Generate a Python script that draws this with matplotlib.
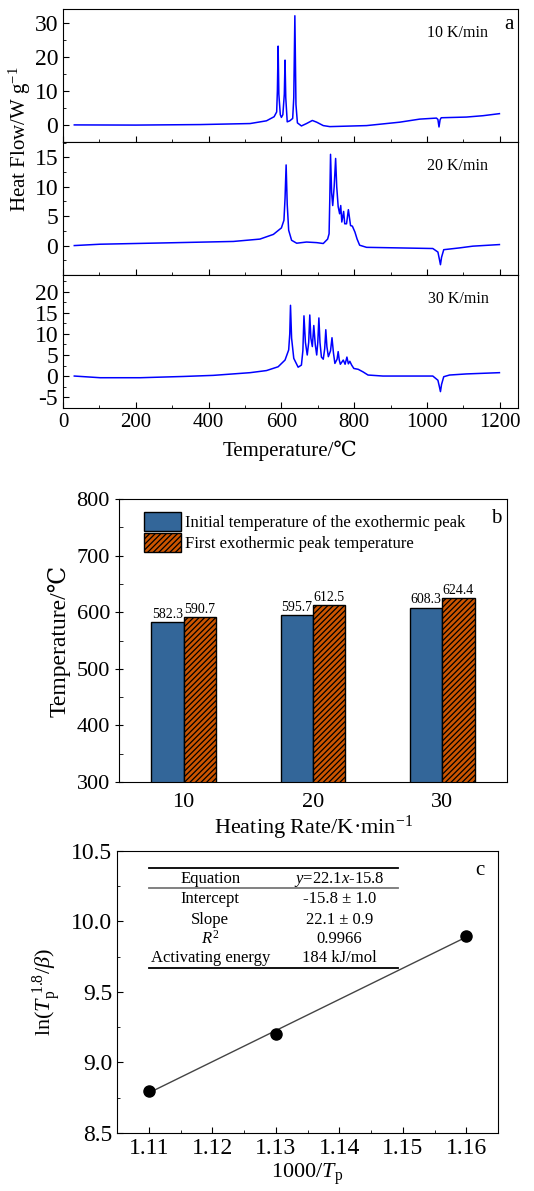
import numpy as np
import matplotlib
matplotlib.use("Agg")
import matplotlib.pyplot as plt
from matplotlib.ticker import MultipleLocator, FormatStrFormatter

plt.rcParams['font.family'] = ['Liberation Serif', 'DejaVu Serif', 'Noto Sans CJK SC']
plt.rcParams['mathtext.fontset'] = 'custom'
plt.rcParams['mathtext.rm'] = 'Liberation Serif'
plt.rcParams['mathtext.it'] = 'Liberation Serif:italic'
plt.rcParams['axes.unicode_minus'] = False
plt.rcParams['hatch.linewidth'] = 0.9

# ---- panel a: DSC curves (temperature, heat flow)
t10 = [31, 200, 377, 514, 559, 580, 587, 589, 591, 593, 597, 600, 604, 608, 610, 612,
       616, 623, 631, 634, 637, 640, 644, 655, 669, 685, 697, 715, 733, 834, 925, 980,
       1026, 1030, 1033, 1036, 1039, 1108, 1154, 1199]
h10 = [0.0, -0.05, 0.1, 0.4, 1.2, 2.4, 3.8, 10.0, 23.1, 9.0, 3.0, 2.2, 3.0, 9.0, 19.0, 8.0,
       0.9, 1.2, 1.9, 8.0, 32.0, 6.0, 0.6, -0.3, 0.4, 1.3, 0.8, -0.2, -0.5, -0.2, 0.8, 1.7,
       2.0, 1.6, -0.6, 1.5, 2.1, 2.3, 2.7, 3.3]

t20 = [31, 102, 285, 468, 541, 578, 600, 607, 610, 613, 616, 620, 628, 642, 669, 697,
       715, 727, 731, 733, 735, 738, 741, 745, 749, 752, 756, 760, 763, 766, 771, 774,
       779, 784, 790, 795, 802, 808, 815, 834, 925, 1016, 1030, 1034, 1037, 1040, 1046,
       1089, 1126, 1199]
h20 = [0.0, 0.23, 0.46, 0.7, 1.1, 1.9, 3.0, 4.3, 8.0, 13.7, 7.0, 2.6, 0.9, 0.4, 0.6, 0.5,
       0.35, 1.1, 2.0, 8.0, 15.5, 9.0, 6.8, 10.0, 14.8, 10.0, 6.6, 5.4, 6.8, 4.0, 5.8, 3.7,
       3.7, 6.1, 3.4, 3.3, 2.3, 1.1, 0.06, -0.3, -0.4, -0.5, -1.1, -2.3, -3.25, -2.0, -0.7,
       -0.4, -0.1, 0.17]

t30 = [31, 102, 212, 331, 413, 514, 559, 591, 610, 620, 623, 625, 628, 634, 646, 655,
       659, 662, 666, 671, 675, 678, 681, 685, 689, 693, 697, 700, 703, 706, 710, 715,
       719, 722, 725, 729, 735, 739, 743, 747, 753, 756, 759, 762, 770, 775, 780, 784,
       788, 793, 799, 811, 824, 838, 879, 1016, 1030, 1034, 1037, 1040, 1046, 1062, 1108,
       1199]
h30 = [0.0, -0.4, -0.4, -0.1, 0.16, 0.8, 1.3, 2.2, 3.8, 6.2, 10.0, 16.8, 9.0, 4.2, 2.1, 2.6,
       6.0, 14.3, 8.0, 5.0, 8.0, 14.5, 9.0, 7.0, 12.0, 7.5, 5.0, 8.0, 13.8, 8.0, 4.5, 4.0,
       6.5, 11.0, 7.0, 4.6, 6.0, 9.1, 5.5, 3.0, 4.0, 5.8, 3.8, 2.8, 3.8, 2.8, 4.5, 2.9,
       3.5, 2.6, 1.8, 1.6, 1.0, 0.24, 0.0, 0.0, -1.0, -2.5, -3.7, -2.0, -0.16, 0.24, 0.5,
       0.8]

rate_labels = ['10 K/min', '20 K/min', '30 K/min']
a_yticks = [[0, 10, 20, 30], [0, 5, 10, 15], [-5, 0, 5, 10, 15, 20]]

# ---- panel b
rates = ['10', '20', '30']
onset_temp = [582.3, 595.7, 608.3]
peak_temp = [590.7, 612.5, 624.4]

# ---- panel c
inv_tp = [1.11, 1.13, 1.16]
ln_val = [8.80, 9.20, 9.90]
table_rows = [
    ('Equation', '$y$=22.1$x$-15.8'),
    ('Intercept', '-15.8 \u00b1 1.0'),
    ('Slope', '22.1 \u00b1 0.9'),
    ('$R^2$', '0.9966'),
    ('Activating energy', '184 kJ/mol'),
]

fig = plt.figure(figsize=(5.34, 11.91), dpi=100)

# panel a
a_axes = [
    fig.add_axes([0.118, 0.8808, 0.852, 0.1117]),
    fig.add_axes([0.118, 0.7691, 0.852, 0.1117]),
    fig.add_axes([0.118, 0.6574, 0.852, 0.1117]),
]
curves = [(t10, h10), (t20, h20), (t30, h30)]
ylims = [(-5, 34), (-5, 17.6), (-7.6, 24)]
ymin = [5, 2.5, 2.5]
for i, ax in enumerate(a_axes):
    tx, hy = curves[i]
    ax.plot(tx, hy, color='#0000ff', lw=1.1)
    ax.set_xlim(0, 1250)
    ax.set_ylim(*ylims[i])
    ax.set_yticks(a_yticks[i])
    ax.yaxis.set_minor_locator(MultipleLocator(ymin[i]))
    ax.xaxis.set_major_locator(MultipleLocator(200))
    ax.xaxis.set_minor_locator(MultipleLocator(100))
    ax.tick_params(which='both', direction='in', labelsize=15)
    ax.tick_params(axis='y', labelsize=17)
    ax.tick_params(which='major', length=4)
    ax.tick_params(which='minor', length=2.5)
    ax.text(0.935, 0.82, rate_labels[i], transform=ax.transAxes, ha='right', va='center',
            fontsize=11.5)
    if i < 2:
        ax.tick_params(labelbottom=False)
a_axes[0].text(0.99, 0.88, 'a', transform=a_axes[0].transAxes, ha='right', va='center',
               fontsize=15)
a_axes[2].set_xlabel('Temperature/\u2103', fontsize=15, labelpad=6)
fig.text(0.038, 0.883, 'Heat Flow/W g$^{-1}$', rotation=90, ha='center', va='center',
         fontsize=15)

# panel b
axb = fig.add_axes([0.2228, 0.3434, 0.7266, 0.2376])
xb = np.arange(len(rates))
w = 0.25
axb.bar(xb - w / 2, onset_temp, w, color='#336699', edgecolor='black', lw=1.0,
        label='Initial temperature of the exothermic peak')
axb.bar(xb + w / 2, peak_temp, w, color='#cc5500', edgecolor='black', lw=1.0,
        hatch='//////', label='First exothermic peak temperature')
for x, v in zip(xb - w / 2, onset_temp):
    axb.text(x, v + 2, f'{v:.1f}', ha='center', va='bottom', fontsize=10)
for x, v in zip(xb + w / 2, peak_temp):
    axb.text(x, v + 2, f'{v:.1f}', ha='center', va='bottom', fontsize=10)
axb.set_xlim(-0.5, 2.5)
axb.set_ylim(300, 800)
axb.set_xticks(xb)
axb.set_xticklabels(rates)
axb.yaxis.set_major_locator(MultipleLocator(100))
axb.yaxis.set_minor_locator(MultipleLocator(50))
axb.tick_params(axis='y', which='major', direction='inout', length=6, labelsize=16)
axb.tick_params(axis='y', which='minor', direction='in', length=3)
axb.tick_params(axis='x', length=0, labelsize=16, pad=8)
axb.set_ylabel('Temperature/\u2103', fontsize=17, labelpad=4)
axb.set_xlabel('Heating Rate/K\u00b7min$^{-1}$', fontsize=16, labelpad=1)
axb.legend(loc='upper left', bbox_to_anchor=(0.04, 0.99), frameon=False, fontsize=12,
           handlelength=2.2, handleheight=1.4, handletextpad=0.25, labelspacing=0.1,
           borderaxespad=0.2)
axb.text(0.985, 0.93, 'b', transform=axb.transAxes, ha='right', va='center', fontsize=15)

# panel c
axc = fig.add_axes([0.2191, 0.0487, 0.7135, 0.2368])
slope, intercept = np.polyfit(inv_tp, ln_val, 1)
fit_x = np.array([inv_tp[0], inv_tp[-1]])
axc.plot(fit_x, slope * fit_x + intercept, color='#444444', lw=1.0)
axc.plot(inv_tp, ln_val, 'o', color='black', ms=8)
axc.set_xlim(1.105, 1.165)
axc.set_ylim(8.5, 10.5)
axc.xaxis.set_major_locator(MultipleLocator(0.01))
axc.xaxis.set_minor_locator(MultipleLocator(0.005))
axc.yaxis.set_major_locator(MultipleLocator(0.5))
axc.yaxis.set_minor_locator(MultipleLocator(0.25))
axc.xaxis.set_major_formatter(FormatStrFormatter('%.2f'))
axc.yaxis.set_major_formatter(FormatStrFormatter('%.1f'))
axc.tick_params(which='both', direction='in', labelsize=17)
axc.tick_params(which='major', length=4)
axc.tick_params(which='minor', length=2.5)
axc.set_xlabel('1000/$T_\\mathrm{p}$', fontsize=16, labelpad=2)
axc.set_ylabel('ln($T_\\mathrm{p}^{\\ 1.8}$/$\\beta$)', fontsize=16, labelpad=6)
axc.text(0.965, 0.93, 'c', transform=axc.transAxes, ha='right', va='center', fontsize=15)

# fit table inside panel c
tx0, tx1 = 0.084, 0.737
col1, col2 = 0.245, 0.583
axc.plot([tx0, tx1], [0.94, 0.94], transform=axc.transAxes, color='black', lw=1.3)
axc.plot([tx0, tx1], [0.869, 0.869], transform=axc.transAxes, color='#777777', lw=1.3)
axc.plot([tx0, tx1], [0.585, 0.585], transform=axc.transAxes, color='black', lw=1.3)
row_y = [0.90, 0.83, 0.757, 0.688, 0.622]
for y, (k, v) in zip(row_y, table_rows):
    axc.text(col1, y, k, transform=axc.transAxes, ha='center', va='center', fontsize=12)
    axc.text(col2, y, v, transform=axc.transAxes, ha='center', va='center', fontsize=12)

fig.savefig('out.png', dpi=100)
